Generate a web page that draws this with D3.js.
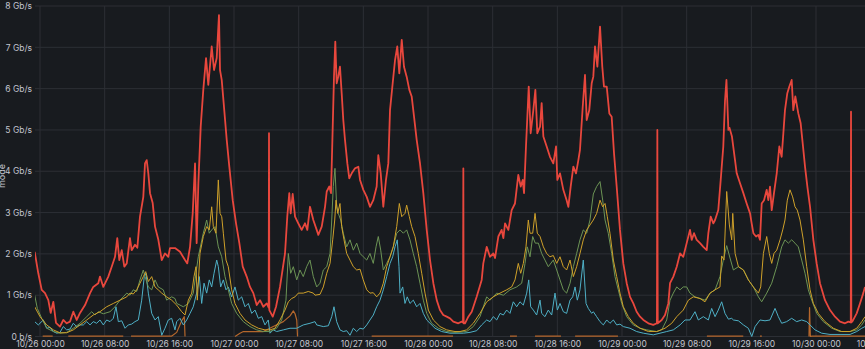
<!DOCTYPE html>
<html>
<head>
<meta charset="utf-8">
<script src="https://cdn.jsdelivr.net/npm/d3@7/dist/d3.min.js"></script>
<style>
  html, body { margin: 0; padding: 0; background: #181b1f; overflow: hidden; }
  svg { display: block; }
  text { font-family: Inter, "Noto Sans", sans-serif; }
</style>
</head>
<body>
<svg id="chart" width="865" height="349"></svg>
<script>
// ---- data: [hours since 10/26 00:00, Gb/s] ----
const yTicks = [0, 1, 2, 3, 4, 5, 6, 7, 8];
const yTickLabels = ["0 b/s", "1 Gb/s", "2 Gb/s", "3 Gb/s", "4 Gb/s", "5 Gb/s", "6 Gb/s", "7 Gb/s", "8 Gb/s"];
const xTickHours = [0, 8, 16, 24, 32, 40, 48, 56, 64, 72, 80, 88, 96, 104];
const xTickLabels = ["10/26 00:00", "10/26 08:00", "10/26 16:00", "10/27 00:00", "10/27 08:00", "10/27 16:00",
  "10/28 00:00", "10/28 08:00", "10/28 16:00", "10/29 00:00", "10/29 08:00", "10/29 16:00", "10/30 00:00", "10/30 08:00"];
const axisLabel = "mode";

const red = [[-0.66,2.05],[-0.21,1.53],[0.21,1.13],[0.62,1.05],[1.03,0.88],[1.32,0.57],[1.65,0.84],[1.98,0.33],[2.47,0.24],[2.88,0.40],[3.3,0.32],[3.71,0.36],[4.12,0.60],[4.54,0.40],[4.95,0.57],[5.57,0.76],[6.19,1.05],[6.59,1.20],[7.21,1.29],[7.42,1.45],[7.83,1.20],[8.45,1.45],[8.87,1.69],[9.28,1.93],[9.56,2.38],[9.81,1.85],[10.11,2.09],[10.43,1.69],[10.73,1.77],[11.13,2.38],[11.34,2.09],[11.75,2.22],[12.04,2.15],[12.37,2.90],[12.78,3.38],[12.99,4.19],[13.2,4.27],[13.4,3.95],[13.61,3.47],[13.94,3.23],[14.23,2.66],[14.64,2.34],[15.06,1.85],[15.46,2.01],[15.87,1.93],[16.08,2.14],[16.7,2.14],[17.32,2.05],[17.94,1.85],[18.22,1.77],[18.56,2.17],[18.89,2.98],[19.18,4.19],[19.38,2.26],[19.59,3.71],[19.88,5.08],[20.2,5.97],[20.54,6.74],[20.82,6.09],[21.24,7.02],[21.53,6.45],[21.86,6.74],[22.14,7.78],[22.27,6.45],[22.48,6.21],[22.76,5.56],[23.1,4.76],[23.42,4.11],[23.84,3.30],[24.25,2.74],[24.66,2.26],[25.08,1.69],[25.57,1.45],[25.98,1.20],[26.39,1.05],[26.81,0.76],[27.22,0.88],[27.63,0.72],[28.05,0.80],[28.29,0.70],[28.33,4.92],[28.37,0.64],[28.79,0.48],[29.2,0.72],[29.69,1.20],[30.31,2.01],[30.59,2.90],[30.84,3.47],[31.01,2.98],[31.26,3.45],[31.55,2.90],[31.95,2.74],[32.37,2.58],[32.78,2.74],[33.07,2.58],[33.4,3.14],[33.81,2.82],[34.23,2.58],[34.43,2.46],[34.85,2.66],[35.26,3.14],[35.47,3.51],[35.79,3.63],[36.0,3.47],[36.16,4.68],[36.37,6.29],[36.53,7.14],[36.7,6.13],[36.9,6.29],[37.11,6.53],[37.32,5.89],[37.52,5.24],[37.73,4.76],[38.02,4.19],[38.26,3.83],[38.56,3.95],[38.97,4.07],[39.38,4.11],[39.59,3.79],[40.0,3.55],[40.42,3.38],[40.82,3.14],[41.23,3.30],[41.65,3.63],[41.85,4.39],[42.15,3.95],[42.47,3.14],[42.8,3.79],[43.09,4.19],[43.3,5.48],[43.63,6.13],[43.92,6.69],[44.2,7.02],[44.45,6.37],[44.75,7.18],[45.03,6.53],[45.36,6.29],[45.69,5.97],[45.98,5.81],[46.27,5.32],[46.6,4.76],[47.01,4.19],[47.42,3.47],[47.84,2.58],[48.25,1.85],[48.66,1.29],[49.08,0.88],[49.48,0.64],[49.89,0.52],[50.31,0.48],[50.72,0.44],[51.13,0.36],[51.75,0.32],[52.17,0.36],[52.33,0.34],[52.37,4.07],[52.41,0.32],[52.58,0.32],[52.99,0.48],[53.41,0.60],[54.02,0.96],[54.64,1.37],[54.84,1.77],[55.26,2.17],[55.67,1.93],[56.08,2.01],[56.29,1.90],[56.7,2.42],[57.11,2.58],[57.32,2.38],[57.53,2.74],[57.94,2.58],[58.35,3.06],[58.76,3.22],[59.17,3.91],[59.47,3.63],[59.72,3.79],[59.88,3.47],[60.12,4.60],[60.46,6.05],[60.7,4.92],[61.03,5.48],[61.28,5.97],[61.52,4.92],[61.86,5.08],[62.06,5.65],[62.27,4.84],[62.68,4.60],[63.09,4.35],[63.5,4.19],[63.84,4.60],[64.0,3.79],[64.33,3.95],[64.74,3.55],[65.15,3.30],[65.36,3.14],[65.65,3.63],[65.98,4.11],[66.31,3.95],[66.6,4.27],[66.8,4.52],[67.14,5.56],[67.42,6.33],[67.63,5.24],[67.95,5.48],[68.25,6.13],[68.45,6.29],[68.66,7.02],[68.95,6.53],[69.28,7.50],[69.56,6.53],[69.77,6.05],[70.11,6.05],[70.43,5.40],[70.72,5.32],[71.01,4.44],[71.34,3.63],[71.75,2.58],[72.16,1.77],[72.58,1.29],[72.99,0.96],[73.4,0.80],[73.81,0.60],[74.23,0.48],[74.64,0.40],[75.26,0.32],[75.87,0.28],[76.32,0.32],[76.37,5.00],[76.42,0.32],[76.91,0.40],[77.32,0.52],[77.73,0.80],[77.94,1.29],[78.35,1.45],[78.77,1.69],[79.18,2.01],[79.58,1.93],[80.0,2.26],[80.41,2.58],[80.62,2.34],[80.91,2.50],[81.24,2.34],[81.65,2.26],[82.06,2.17],[82.48,2.09],[82.68,2.50],[82.97,2.90],[83.3,2.74],[83.51,2.82],[83.91,3.06],[84.21,3.79],[84.53,4.60],[84.74,5.70],[84.92,6.21],[85.16,5.00],[85.3,5.05],[85.6,4.84],[85.98,4.27],[86.19,3.95],[86.6,3.71],[87.01,3.47],[87.42,3.22],[87.84,2.98],[88.04,2.74],[88.25,2.50],[88.58,2.42],[88.86,2.46],[89.07,2.34],[89.28,3.22],[89.57,3.30],[89.9,3.55],[90.1,3.30],[90.31,3.63],[90.52,3.06],[90.8,3.47],[91.14,3.95],[91.46,4.60],[91.75,4.35],[91.96,4.92],[92.16,5.48],[92.45,5.89],[92.7,6.05],[92.99,6.21],[93.19,5.48],[93.44,5.81],[93.81,5.40],[94.1,5.16],[94.35,4.68],[94.64,4.11],[94.93,3.63],[95.26,3.14],[95.67,2.34],[96.08,1.77],[96.49,1.29],[97.11,0.88],[97.73,0.64],[98.35,0.48],[98.97,0.36],[99.59,0.32],[100.0,0.36],[100.3,0.34],[100.33,5.44],[100.37,0.34],[100.54,0.38],[101.03,0.56],[101.44,0.80],[101.85,1.05],[102.06,1.20]];

const yellow = [[-0.66,0.72],[0,0.48],[0.83,0.28],[1.65,0.16],[2.47,0.09],[3.3,0.09],[4.12,0.16],[4.95,0.28],[5.78,0.40],[6.59,0.52],[7.42,0.60],[8.25,0.72],[9.07,0.80],[9.9,0.88],[10.73,0.96],[11.13,1.05],[11.54,1.03],[11.96,1.13],[12.37,1.29],[12.78,1.45],[13.08,1.57],[13.4,1.33],[13.82,1.45],[14.23,1.20],[14.63,1.13],[15.06,1.05],[15.67,0.96],[16.29,0.88],[16.91,0.76],[17.53,0.60],[17.94,0.52],[18.35,0.88],[18.77,1.05],[19.05,1.45],[19.3,1.69],[19.46,0.88],[19.79,2.01],[20.2,2.42],[20.62,2.66],[20.94,2.58],[21.24,3.14],[21.44,2.66],[21.77,2.50],[22.06,3.79],[22.27,2.98],[22.48,2.90],[22.68,2.50],[23.01,1.85],[23.29,1.69],[23.71,1.13],[24.12,0.80],[24.74,0.56],[25.36,0.40],[26.19,0.28],[27.01,0.20],[27.83,0.16],[28.45,0.16],[29.07,0.20],[29.69,0.40],[30.31,0.64],[30.72,0.84],[31.14,0.92],[31.55,0.96],[31.95,1.05],[32.57,1.05],[33.19,1.09],[33.81,1.05],[34.02,1.00],[34.64,1.02],[35.05,1.20],[35.47,1.53],[35.88,1.77],[36.21,2.34],[36.46,2.82],[36.62,3.30],[36.83,2.98],[37.11,3.22],[37.32,2.66],[37.61,2.34],[37.94,2.01],[38.35,1.85],[38.76,1.69],[39.18,1.61],[39.59,1.63],[39.99,1.37],[40.42,1.13],[40.82,1.05],[41.23,1.06],[41.65,0.96],[42.06,1.05],[42.47,1.29],[42.89,1.69],[43.3,1.93],[43.7,2.17],[44.13,2.66],[44.45,3.22],[44.75,2.90],[45.15,2.98],[45.36,3.18],[45.69,2.90],[45.98,2.66],[46.39,2.42],[46.8,2.01],[47.22,1.53],[47.63,1.05],[48.04,0.64],[48.66,0.40],[49.48,0.24],[50.31,0.16],[51.34,0.12],[51.96,0.12],[52.78,0.16],[53.6,0.32],[54.43,0.56],[55.26,0.84],[56.08,0.96],[56.91,1.05],[57.73,1.13],[58.35,1.20],[58.76,1.37],[59.17,1.77],[59.47,1.53],[59.79,1.77],[60.12,2.17],[60.41,2.82],[60.62,2.50],[60.95,2.50],[61.24,2.98],[61.52,2.50],[61.86,2.42],[62.27,2.17],[62.68,2.01],[63.09,1.93],[63.5,1.96],[63.92,1.77],[64.33,1.93],[64.74,1.69],[65.15,1.61],[65.57,1.85],[65.98,1.45],[66.39,1.69],[66.8,2.01],[67.21,2.34],[67.63,2.58],[68.04,2.70],[68.45,2.82],[68.86,2.98],[69.28,3.30],[69.61,3.14],[69.9,3.22],[70.18,2.90],[70.51,2.50],[70.93,1.85],[71.34,1.45],[71.75,1.05],[72.16,0.72],[72.78,0.48],[73.4,0.32],[74.23,0.20],[75.26,0.12],[76.29,0.12],[77.32,0.20],[78.15,0.32],[78.77,0.48],[79.58,0.64],[80.21,0.88],[80.82,0.96],[81.65,0.92],[82.27,0.84],[82.89,1.05],[83.51,1.13],[84.12,1.20],[84.33,1.95],[84.62,1.85],[84.95,3.51],[85.28,2.70],[85.57,2.34],[85.7,2.98],[85.99,2.01],[86.4,1.69],[87.02,1.61],[87.63,1.37],[88.25,1.20],[88.87,1.05],[89.16,1.20],[89.49,2.01],[89.9,2.42],[90.22,2.01],[90.52,1.77],[90.8,2.01],[91.14,2.09],[91.55,2.34],[91.88,2.58],[92.16,2.82],[92.45,3.30],[92.78,3.55],[93.11,3.38],[93.4,3.14],[93.68,3.06],[94.02,2.82],[94.43,2.34],[94.85,1.69],[95.26,1.13],[95.67,0.80],[96.28,0.56],[97.11,0.36],[98.14,0.20],[99.18,0.12],[100.21,0.12],[101.04,0.20],[101.66,0.36],[102.06,0.48]];

const green = [[-0.66,1.00],[-0.33,0.68],[0.21,0.44],[0.83,0.20],[1.65,0.12],[2.47,0.08],[3.3,0.10],[4.12,0.20],[4.95,0.32],[5.78,0.48],[6.4,0.60],[6.8,0.52],[7.21,0.60],[7.83,0.55],[8.66,0.60],[9.28,0.72],[9.9,0.88],[10.3,0.96],[10.73,1.05],[11.13,1.00],[11.54,1.13],[11.96,1.09],[12.37,1.37],[12.78,1.61],[12.99,1.45],[13.4,1.20],[13.82,1.13],[14.23,1.37],[14.63,1.20],[15.25,1.13],[15.67,0.88],[16.29,0.96],[16.7,0.92],[16.91,0.80],[17.73,0.72],[18.35,0.80],[18.96,1.05],[19.58,1.93],[20.2,2.50],[20.62,2.82],[20.94,2.50],[21.24,2.58],[21.65,2.66],[22.06,2.17],[22.48,1.93],[22.89,1.45],[23.29,1.13],[23.71,0.80],[24.33,0.56],[25.15,0.36],[25.98,0.24],[26.81,0.16],[27.62,0.12],[28.45,0.12],[29.28,0.20],[29.9,0.40],[30.43,0.88],[30.72,2.01],[31.01,1.53],[31.34,1.69],[31.76,1.37],[32.16,1.61],[32.57,1.45],[32.99,1.69],[33.4,1.85],[33.81,1.45],[34.23,1.20],[34.64,1.29],[35.05,1.61],[35.47,1.69],[35.88,2.01],[36.09,2.82],[36.28,3.63],[36.49,4.07],[36.7,3.14],[36.9,2.98],[37.2,2.82],[37.52,2.50],[37.94,2.17],[38.35,2.34],[38.76,2.09],[39.18,2.26],[39.59,2.01],[39.99,1.93],[40.42,1.85],[40.82,2.01],[41.23,1.77],[41.57,2.17],[41.85,2.42],[42.15,2.09],[42.47,1.61],[42.89,1.77],[43.3,1.93],[43.7,2.17],[44.13,2.50],[44.54,2.58],[44.95,2.50],[45.36,2.58],[45.77,2.34],[46.18,2.01],[46.6,1.69],[47.01,1.29],[47.42,0.88],[47.84,0.56],[48.45,0.32],[49.27,0.20],[50.31,0.12],[51.34,0.10],[52.78,0.12],[53.6,0.24],[54.43,0.48],[55.26,0.96],[55.67,0.88],[56.5,1.05],[57.32,1.00],[58.14,1.13],[58.97,1.20],[59.59,1.29],[60.0,1.77],[60.28,2.17],[60.62,1.93],[60.95,2.42],[61.27,2.26],[61.65,2.26],[62.06,2.01],[62.47,1.85],[62.88,1.69],[63.5,1.85],[63.92,1.61],[64.33,1.37],[64.74,1.13],[65.15,1.05],[65.57,1.29],[65.98,1.69],[66.39,2.01],[66.8,2.34],[67.21,2.58],[67.63,2.50],[68.04,2.82],[68.45,3.45],[68.86,3.63],[69.28,3.75],[69.61,3.30],[69.9,2.82],[70.3,2.50],[70.72,2.01],[71.13,1.45],[71.54,1.13],[71.96,0.80],[72.58,0.48],[73.4,0.28],[74.23,0.20],[75.06,0.16],[76.29,0.12],[76.91,0.16],[77.53,0.40],[77.94,0.88],[78.35,1.05],[78.77,1.20],[79.18,1.13],[79.58,1.20],[80.0,1.20],[80.41,1.05],[81.03,0.96],[81.65,0.92],[82.27,0.88],[82.89,1.05],[83.51,1.13],[84.12,1.45],[84.53,1.85],[84.95,2.20],[85.36,1.90],[85.78,1.61],[86.4,1.69],[87.02,1.61],[87.63,1.37],[88.25,1.20],[88.87,0.96],[89.28,0.84],[89.9,1.05],[90.52,1.29],[91.14,1.69],[91.75,2.17],[92.16,2.34],[92.58,2.26],[92.99,2.34],[93.4,2.26],[93.81,2.17],[94.23,1.85],[94.64,1.53],[95.05,1.13],[95.47,0.88],[96.09,0.56],[96.9,0.36],[97.94,0.20],[98.97,0.12],[100.21,0.12],[101.04,0.16],[101.66,0.28],[102.06,0.40]];

const cyan = [[-0.66,0.36],[-0.21,0.28],[0.41,0.40],[0.83,0.20],[1.24,0.22],[1.65,0.12],[2.07,0.08],[2.47,0.10],[2.88,0.24],[3.3,0.16],[3.71,0.18],[4.12,0.32],[4.54,0.24],[4.95,0.28],[5.36,0.28],[5.78,0.36],[6.19,0.28],[6.59,0.36],[7.01,0.32],[7.42,0.40],[7.83,0.28],[8.25,0.40],[8.66,0.36],[9.07,0.44],[9.4,0.72],[9.69,0.36],[10.11,0.38],[10.52,0.20],[10.92,0.28],[11.34,0.30],[11.75,0.36],[12.16,0.40],[12.58,0.88],[12.9,1.45],[13.11,1.53],[13.4,1.05],[13.82,0.56],[14.23,0.40],[14.63,0.48],[15.06,0.03],[15.46,0.20],[15.87,0.40],[16.29,0.44],[16.7,0.16],[16.91,0.36],[17.32,0.44],[17.73,0.28],[18.15,0.40],[18.56,0.56],[18.96,0.72],[19.38,1.05],[19.71,1.45],[20.0,0.80],[20.29,1.29],[20.62,1.05],[20.94,1.37],[21.24,1.20],[21.53,1.53],[21.86,1.85],[22.06,1.69],[22.35,1.20],[22.68,1.37],[23.01,1.13],[23.29,1.20],[23.71,0.96],[24.12,1.20],[24.53,0.88],[24.95,0.96],[25.36,0.72],[25.77,0.80],[26.19,0.56],[26.6,0.64],[27.01,0.44],[27.43,0.48],[27.83,0.28],[28.24,0.40],[28.45,0.08],[28.86,0.16],[29.28,0.12],[30.1,0.16],[30.93,0.20],[31.76,0.20],[32.57,0.28],[33.4,0.32],[34.02,0.36],[34.23,0.28],[35.05,0.24],[35.67,0.26],[36.09,0.48],[36.37,0.72],[36.7,0.36],[37.11,0.16],[37.52,0.12],[37.94,0.14],[38.35,0.03],[38.76,0.20],[39.18,0.12],[39.59,0.20],[39.99,0.18],[40.42,0.28],[40.82,0.40],[41.23,0.52],[41.65,0.72],[42.06,0.88],[42.47,1.13],[42.89,1.45],[43.3,1.77],[43.63,1.93],[43.92,2.17],[44.2,2.34],[44.41,1.69],[44.54,1.05],[44.87,1.20],[45.15,0.80],[45.43,0.96],[45.77,0.80],[46.18,0.88],[46.6,0.72],[47.01,0.80],[47.42,0.56],[47.84,0.40],[48.25,0.32],[48.87,0.20],[49.69,0.12],[50.72,0.08],[51.09,0.08],[52.37,0.08],[53.2,0.10],[54.02,0.14],[54.64,0.28],[55.26,0.40],[55.67,0.36],[56.08,0.48],[56.5,0.40],[56.91,0.56],[57.32,0.52],[57.73,0.64],[58.14,0.56],[58.55,0.84],[58.97,0.72],[59.38,0.84],[59.79,0.76],[60.21,1.05],[60.46,1.37],[60.7,0.72],[61.03,0.64],[61.44,0.52],[61.86,0.88],[62.06,0.56],[62.47,0.48],[62.88,0.64],[63.3,0.52],[63.71,1.05],[64.0,0.64],[64.33,0.80],[64.74,0.60],[65.15,0.56],[65.57,0.88],[65.9,0.96],[66.19,1.20],[66.47,0.88],[66.8,1.13],[67.21,1.85],[67.55,0.80],[67.83,0.68],[68.25,0.56],[68.45,0.60],[68.86,0.48],[69.28,0.36],[69.69,0.28],[70.11,0.40],[70.51,0.32],[70.93,0.40],[71.34,0.28],[71.75,0.30],[72.16,0.24],[72.99,0.20],[73.81,0.12],[74.64,0.08],[75.87,0.04],[76.7,0.08],[77.53,0.12],[78.35,0.16],[79.18,0.28],[79.79,0.40],[80.41,0.40],[81.03,0.60],[81.44,0.40],[82.06,0.48],[82.68,0.40],[83.09,0.68],[83.51,0.48],[83.91,0.64],[84.33,0.84],[84.74,0.56],[85.16,0.42],[85.57,0.44],[85.78,0.40],[86.4,0.38],[87.02,0.28],[87.63,0.20],[88.05,0.00],[88.46,0.24],[89.07,0.40],[89.69,0.38],[90.31,0.40],[90.93,0.68],[91.34,0.48],[91.75,0.32],[92.37,0.36],[92.99,0.44],[93.61,0.36],[94.23,0.40],[94.85,0.36],[95.26,0.28],[95.88,0.16],[96.7,0.08],[97.73,0.05],[98.97,0.05],[100.21,0.05],[101.04,0.12],[101.66,0.20],[102.06,0.24]];

const orange = [[0.33,0.01],[1.57,0.01],[1.6,null],[3.5,0.01],[10.3,0.01],[10.4,null],[11.26,0.01],[16.3,0.01],[16.91,0.10],[17.53,0.38],[17.85,0.48],[17.94,0.00],[18.0,null],[24.12,0.00],[24.74,0.08],[25.15,0.12],[26.35,0.12],[27.62,0.12],[28.86,0.24],[30.1,0.36],[30.93,0.50],[31.34,0.62],[31.55,0.55],[31.76,0.40],[31.86,0.00],[31.9,null],[41.03,0.01],[51.1,0.01],[51.2,null],[58.14,0.01],[59.0,0.01],[59.1,null],[61.24,0.01],[64.45,0.01],[64.5,null],[66.2,0.01],[71.5,0.01],[71.6,null],[82.5,0.01],[87.0,0.01],[87.1,null],[89.07,0.01],[89.3,0.01],[89.4,null],[95.13,0.00],[95.2,0.70],[95.3,0.00],[95.5,0.01],[102.06,0.01]];

const seriesList = [
  { data: orange, color: "#b5672c", width: 1.2 },
  { data: cyan,   color: "#4fb0c6", width: 1 },
  { data: green,  color: "#6c9455", width: 1 },
  { data: yellow, color: "#cfa12a", width: 1 },
  { data: red,    color: "#e8473d", width: 1.8 }
];

// ---- layout ----
const W = 865, H = 349;
const plot = { left: 35, right: 865, top: 6, bottom: 336.5 };
const t0 = new Date(2023, 9, 26, 0, 0);
const hourMs = 3600 * 1000;
const toDate = h => new Date(t0.getTime() + h * hourMs);

const x = d3.scaleTime()
  .domain([toDate(-0.619), toDate(102.06)])
  .range([plot.left, plot.right]);
const y = d3.scaleLinear().domain([0, 8]).range([plot.bottom, plot.top]);

const svg = d3.select("#chart");
svg.append("rect").attr("width", W).attr("height", H).attr("fill", "#181b1f");

// grid
const grid = svg.append("g");
grid.selectAll("line.h").data(yTicks).join("line")
  .attr("x1", plot.left).attr("x2", plot.right)
  .attr("y1", d => y(d)).attr("y2", d => y(d))
  .attr("stroke", "#2c2f35").attr("stroke-width", 1);
grid.selectAll("line.v").data(xTickHours).join("line")
  .attr("x1", d => x(toDate(d))).attr("x2", d => x(toDate(d)))
  .attr("y1", plot.top).attr("y2", plot.bottom)
  .attr("stroke", "#2c2f35").attr("stroke-width", 1);

// y axis labels
const yAxis = d3.axisLeft(y).tickValues(yTicks).tickSize(0).tickPadding(0)
  .tickFormat((d, i) => yTickLabels[i]);
const gy = svg.append("g").attr("transform", `translate(32,0)`).call(yAxis);
gy.select(".domain").remove();
gy.selectAll("text").attr("fill", "#c4c6cf").attr("font-size", 8.5).attr("font-family", "Inter, sans-serif");

// x axis labels
const xAxis = d3.axisBottom(x).tickValues(xTickHours.map(toDate)).tickSize(0).tickPadding(0)
  .tickFormat((d, i) => xTickLabels[i]);
const gx = svg.append("g").attr("transform", `translate(0,341.5)`).call(xAxis);
gx.select(".domain").remove();
gx.selectAll("text").attr("fill", "#c4c6cf").attr("font-size", 8.5).attr("font-family", "Inter, sans-serif")
  .attr("dy", "0.66em");

// rotated axis label (clipped at the left edge, as in the original screenshot)
svg.append("text").attr("transform", "translate(4.5,176) rotate(-90)")
  .attr("text-anchor", "middle").attr("fill", "#c4c6cf").attr("font-size", 9)
  .text(axisLabel);

// lines
svg.append("clipPath").attr("id", "plotclip").append("rect")
  .attr("x", plot.left).attr("y", 0).attr("width", plot.right - plot.left).attr("height", plot.bottom + 2);
const line = d3.line()
  .defined(d => d[1] !== null)
  .x(d => x(toDate(d[0])))
  .y(d => y(d[1]));
const gl = svg.append("g").attr("clip-path", "url(#plotclip)");
seriesList.forEach(s => {
  gl.append("path").datum(s.data)
    .attr("d", line)
    .attr("fill", "none")
    .attr("stroke", s.color)
    .attr("stroke-width", s.width)
    .attr("stroke-linejoin", "round");
});
</script>
</body>
</html>
